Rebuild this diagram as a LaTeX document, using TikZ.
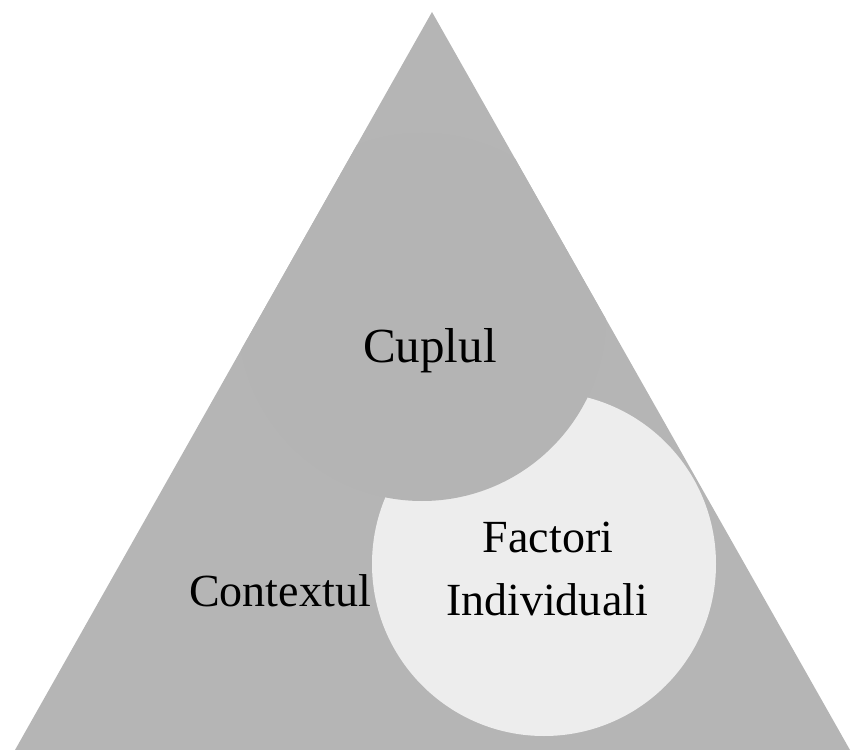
\documentclass[tikz,border=0pt]{standalone}
\usepackage{fontspec}
\setmainfont{Liberation Serif}
\definecolor{trigray}{gray}{0.71}
\definecolor{cupgray}{gray}{0.705}
\definecolor{indgray}{gray}{0.93}

\begin{document}
\begin{tikzpicture}[
    x = 0.02cm, y = -0.02cm,
    lbl/.style = {
      anchor = base, inner sep = 0pt,
      font = \fontsize{26.2}{31}\selectfont
    },
    biglbl/.style = {
      lbl, font = \fontsize{27.9}{33}\selectfont
    }
  ]
  \useasboundingbox (0,0) rectangle (856,750);

  % ---- Triunghiul ----
  \coordinate (apex)  at (432,12);
  \coordinate (left)  at (15,750);
  \coordinate (right) at (850,750);
  \fill[trigray] (apex) -- (left) -- (right) -- cycle;

  % ---- Cercurile ----
  \fill[indgray] (544,564) circle[radius = 172];
  \begin{scope}
    \clip (apex) -- (left) -- (right) -- cycle;
    \fill[cupgray] (422,317) circle[radius = 184];
  \end{scope}

  % ---- Etichete ----
  \node[biglbl] (cuplul)  at (430,362) {Cuplul};
  \node[lbl]    (factori) at (548,552) {Factori};
  \node[lbl]    (indiv)   at (547,615) {Individuali};
  \node[lbl]    (context) at (280,606) {Contextul};

\end{tikzpicture}
\end{document}
